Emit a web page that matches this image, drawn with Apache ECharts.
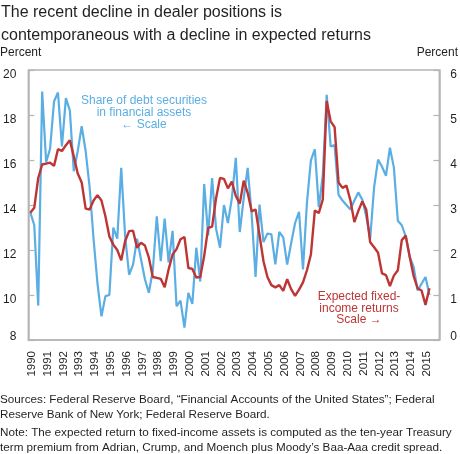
<!DOCTYPE html>
<html>
<head>
<meta charset="utf-8">
<script src="https://cdn.jsdelivr.net/npm/echarts@6/dist/echarts.min.js"></script>
<style>
html,body{margin:0;padding:0;background:#fff;}
#chart{width:460px;height:454px;}
</style>
</head>
<body>
<div id="chart"></div>
<script>
// Year categories shown on the x axis
const years = ['1990','1991','1992','1993','1994','1995','1996','1997','1998','1999','2000','2001','2002','2003','2004','2005','2006','2007','2008','2009','2010','2011','2012','2013','2014','2015'];
// Quarterly observations, 1990Q1 .. 2015Q2
const quarters = [];
years.forEach(y => ['Q1','Q2','Q3','Q4'].forEach(q => quarters.push(y + q)));
const obsQuarters = quarters.slice(0, 102);

// Share of debt securities in financial assets (left scale, percent)
const debtShare = [
  13.67,13.1,9.53,19.04,15.9,16.5,18.6,19.0,16.6,18.75,
  18.2,15.5,16.4,17.5,16.4,14.8,12.5,10.5,9.05,9.95,
  10.0,13.0,12.5,15.65,12.6,10.9,11.35,12.5,11.6,10.7,
  10.1,11.1,13.5,11.5,13.4,11.45,12.85,9.5,9.75,8.55,
  10.1,9.6,12.1,10.6,14.93,12.65,15.2,12.95,12.1,14.0,
  13.2,14.3,16.1,12.8,14.3,15.65,13.6,10.8,14.02,12.35,
  12.73,12.7,11.36,12.8,12.56,11.35,12.3,13.2,13.7,11.14,
  14.1,15.98,16.48,13.9,15.3,18.9,16.6,16.66,14.45,14.2,
  14.0,13.8,14.2,14.56,14.24,13.5,12.5,14.8,16.02,15.7,
  15.3,16.55,15.66,13.3,13.1,12.6,11.7,11.25,10.2,10.5,
  10.8,10.0
];
// Expected fixed-income returns (right scale, percent)
const expectedReturn = [
  2.83,2.94,3.6,3.9,3.92,3.94,3.87,4.24,4.2,4.33,
  4.44,4.08,3.7,3.5,2.92,2.9,3.1,3.22,3.1,2.75,
  2.3,2.12,2.0,1.77,2.2,2.42,2.43,2.05,2.16,2.1,
  1.83,1.4,1.38,1.36,1.17,1.57,1.9,2.02,2.24,2.29,
  1.6,1.58,1.39,1.4,1.87,2.49,2.52,3.15,3.6,3.58,
  3.37,3.52,3.2,3.03,3.54,3.27,2.86,2.9,2.33,1.75,
  1.4,1.22,1.17,1.22,1.09,1.35,1.13,0.98,1.12,1.28,
  1.55,1.9,2.88,2.82,3.12,5.31,4.86,4.73,3.5,3.38,
  3.43,3.1,2.62,2.87,3.08,2.9,2.17,2.06,1.94,1.48,
  1.44,1.2,1.43,1.55,2.22,2.32,1.85,1.42,1.15,1.1,
  0.78,1.15
];
const leftTicks = {min: 8, max: 20, step: 2};
const rightTicks = {min: 0, max: 6, step: 1};

function qPos(label) {
  const y = parseInt(label.slice(0, 4), 10);
  const q = parseInt(label.slice(5), 10);
  return y + (q - 0.5) / 4;
}
const blueData = obsQuarters.map((q, i) => [qPos(q), debtShare[i]]);
const redData = obsQuarters.map((q, i) => [qPos(q), expectedReturn[i]]);

const FONT = '"Liberation Sans", Arial, sans-serif';
const GREY = '#b5b5b5';
const BLUE = '#5aaee3';
const RED = '#bd3535';
const TXT = '#231f20';

function yLabel(min) {
  return function (v) { return v === min ? '{lo|' + v + '}' : '{n|' + v + '}'; };
}
const yRich = {
  n: {padding: [9, 0, 0, 0], fontSize: 12, color: TXT, fontFamily: FONT},
  lo: {padding: [0, 0, 6, 0], fontSize: 12, color: TXT, fontFamily: FONT}
};

const chart = echarts.init(document.getElementById('chart'), null, {renderer: 'canvas'});
chart.setOption({
  animation: false,
  backgroundColor: '#fff',
  textStyle: {fontFamily: FONT},
  title: {
    text: 'The recent decline in dealer positions is\ncontemporaneous with a decline in expected returns',
    left: 1, top: 1, padding: 0,
    textStyle: {fontSize: 16, lineHeight: 23, fontWeight: 'normal', color: TXT, fontFamily: FONT}
  },
  grid: {left: 26, right: 19, top: 70, bottom: 114, show: true, borderColor: GREY, borderWidth: 1.5, containLabel: false},
  xAxis: [
    {
      type: 'category', data: years, boundaryGap: true, position: 'bottom',
      axisLine: {lineStyle: {color: GREY, width: 1.5}},
      axisTick: {inside: true, length: 6, lineStyle: {color: GREY, width: 1.2}},
      axisLabel: {rotate: 90, fontSize: 11.5, color: TXT, margin: 11, fontFamily: FONT, interval: 0, verticalAlign: 'bottom', lineHeight: 9},
      splitLine: {show: false}
    },
    {
      type: 'value', min: 1990, max: 2016, show: false, position: 'bottom'
    }
  ],
  yAxis: [
    {
      type: 'value', min: leftTicks.min, max: leftTicks.max, interval: leftTicks.step, position: 'left',
      axisLine: {show: true, lineStyle: {color: GREY, width: 1.5}},
      axisTick: {show: true, inside: true, length: 6, lineStyle: {color: GREY, width: 1.2}},
      axisLabel: {fontSize: 12, color: TXT, margin: 12, fontFamily: FONT, formatter: yLabel(leftTicks.min), rich: yRich},
      splitLine: {show: false}
    },
    {
      type: 'value', min: rightTicks.min, max: rightTicks.max, interval: rightTicks.step, position: 'right',
      axisLine: {show: true, lineStyle: {color: GREY, width: 1.5}},
      axisTick: {show: true, inside: true, length: 6, lineStyle: {color: GREY, width: 1.2}},
      axisLabel: {fontSize: 12, color: TXT, margin: 11, fontFamily: FONT, formatter: yLabel(rightTicks.min), rich: yRich},
      splitLine: {show: false}
    }
  ],
  series: [
    {
      name: 'Share of debt securities in financial assets', type: 'line',
      xAxisIndex: 1, yAxisIndex: 0, data: blueData,
      showSymbol: false, lineStyle: {color: BLUE, width: 2.2}, z: 2
    },
    {
      name: 'Expected fixed-income returns', type: 'line',
      xAxisIndex: 1, yAxisIndex: 1, data: redData,
      showSymbol: false, lineStyle: {color: RED, width: 2.4}, z: 3
    }
  ],
  graphic: [
    {type: 'text', left: 0, top: 47, style: {text: 'Percent', fontSize: 12, fill: TXT, fontFamily: FONT}},
    {type: 'text', right: 2, top: 47, style: {text: 'Percent', fontSize: 12, fill: TXT, fontFamily: FONT}},
    {type: 'text', x: 144, y: 95, style: {text: 'Share of debt securities\nin financial assets\n\u2190 Scale', fontSize: 12, lineHeight: 11.7, fill: BLUE, align: 'center', fontFamily: FONT}},
    {type: 'text', x: 359, y: 291, style: {text: 'Expected fixed-\nincome returns\nScale \u2192', fontSize: 12, lineHeight: 11.5, fill: RED, align: 'center', fontFamily: FONT}},
    {type: 'text', left: 0, top: 393, style: {text: 'Sources: Federal Reserve Board, \u201cFinancial Accounts of the United States\u201d; Federal\nReserve Bank of New York; Federal Reserve Board.', fontSize: 11.7, lineHeight: 14.5, fill: TXT, fontFamily: FONT}},
    {type: 'text', left: 0, top: 426, style: {text: 'Note: The expected return to fixed-income assets is computed as the ten-year Treasury\nterm premium from Adrian, Crump, and Moench plus Moody\u2019s Baa-Aaa credit spread.', fontSize: 11.7, lineHeight: 14.5, fill: TXT, fontFamily: FONT}}
  ]
});
</script>
</body>
</html>
